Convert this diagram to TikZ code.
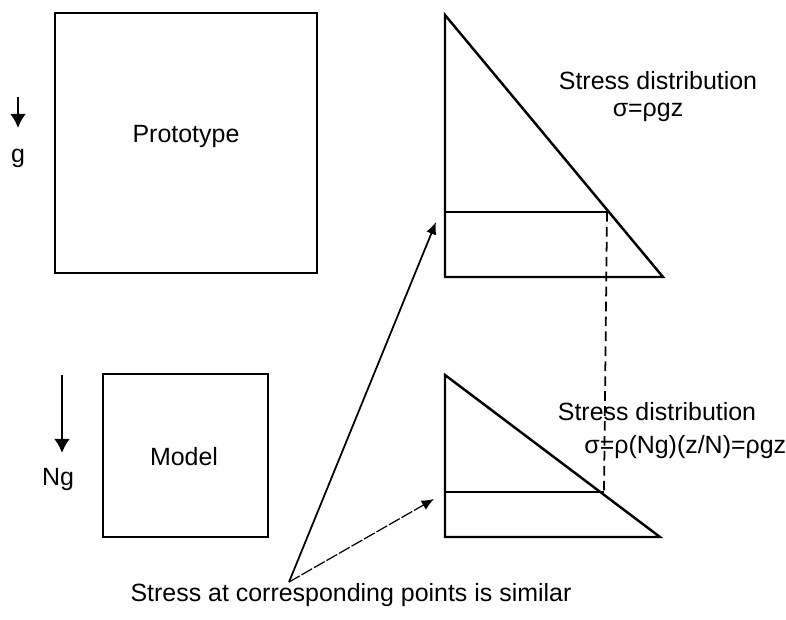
\documentclass[tikz,border=0pt]{standalone}
\usepackage{fontspec}
\setmainfont{Liberation Sans}
\usetikzlibrary{arrows.meta}
\begin{document}
\begin{tikzpicture}[x=0.02cm, y=-0.02cm]
  \tikzstyle{box}=[draw, line width=1.4pt, inner sep=0pt]
  \tikzstyle{label}=[font=\fontsize{14.2}{17}\selectfont, inner sep=0pt]
  \tikzstyle{wall}=[line width=1.4pt, line join=miter]
  \tikzstyle{level}=[line width=1pt]
  \tikzstyle{link}=[line width=1pt, dash pattern=on 5.5pt off 3pt]
  \tikzstyle{gravity}=[-{Latex[length=8pt, width=9pt]}, line width=1.4pt]
  \tikzstyle{pointer}=[-{Latex[length=7pt, width=6pt]}, line width=1pt]

  \useasboundingbox (0,0) rectangle (786,619);

  % prototype
  \coordinate (gtop) at (18,97);
  \coordinate (gtip) at (18,128);
  \node[label, anchor=base] (g)     at (18,162)  {g};
  \node[box, minimum width=5.24cm, minimum height=5.2cm] (proto) at (186,143) {};
  \node[label]              (protoname) at (186,137) {Prototype};

  \coordinate (pa) at (445,15);
  \coordinate (pb) at (445,277);
  \coordinate (pc) at (663,277);
  \coordinate (pl) at (445,212);
  \coordinate (pr) at (607,212);
  \node[label] (pstress) at (658,81)  {Stress distribution};
  \node[label] (plaw)    at (648,112) {σ=ρgz};

  % model
  \coordinate (ngtop) at (62,375);
  \coordinate (ngtip) at (62,453);
  \node[label, anchor=base] (ng)    at (58,485)  {Ng};
  \node[box, minimum width=3.3cm, minimum height=3.26cm] (model) at (185.5,455.5) {};
  \node[label]              (modelname) at (184,457) {Model};

  \coordinate (ma) at (445,375);
  \coordinate (mb) at (445,537);
  \coordinate (mc) at (660,537);
  \coordinate (ml) at (445,492);
  \coordinate (mr) at (604,492);
  \node[label] (mstress) at (657,412) {Stress distribution};
  \node[label, anchor=west] (mlaw) at (584,447) {σ=ρ(Ng)(z/N)=ρgz};

  % note
  \coordinate (src)  at (289,582);
  \coordinate (ptip) at (436,222);
  \coordinate (mtip) at (434,499);
  \node[label, anchor=base] (note) at (351,601) {Stress at corresponding points is similar};

  \draw[gravity] (gtop) -- (gtip);
  \draw[gravity] (ngtop) -- (ngtip);
  \draw[wall] (pa) -- (pb) -- (pc) -- cycle;
  \draw[wall] (ma) -- (mb) -- (mc) -- cycle;
  \draw[level] (pl) -- (pr);
  \draw[level] (ml) -- (mr);
  \draw[link] (pr) -- (mr);
  \draw[pointer] (src) -- (ptip);
  \draw[pointer, line width=0.7pt, dash pattern=on 7pt off 1.2pt] (src) -- (mtip);
\end{tikzpicture}
\end{document}
